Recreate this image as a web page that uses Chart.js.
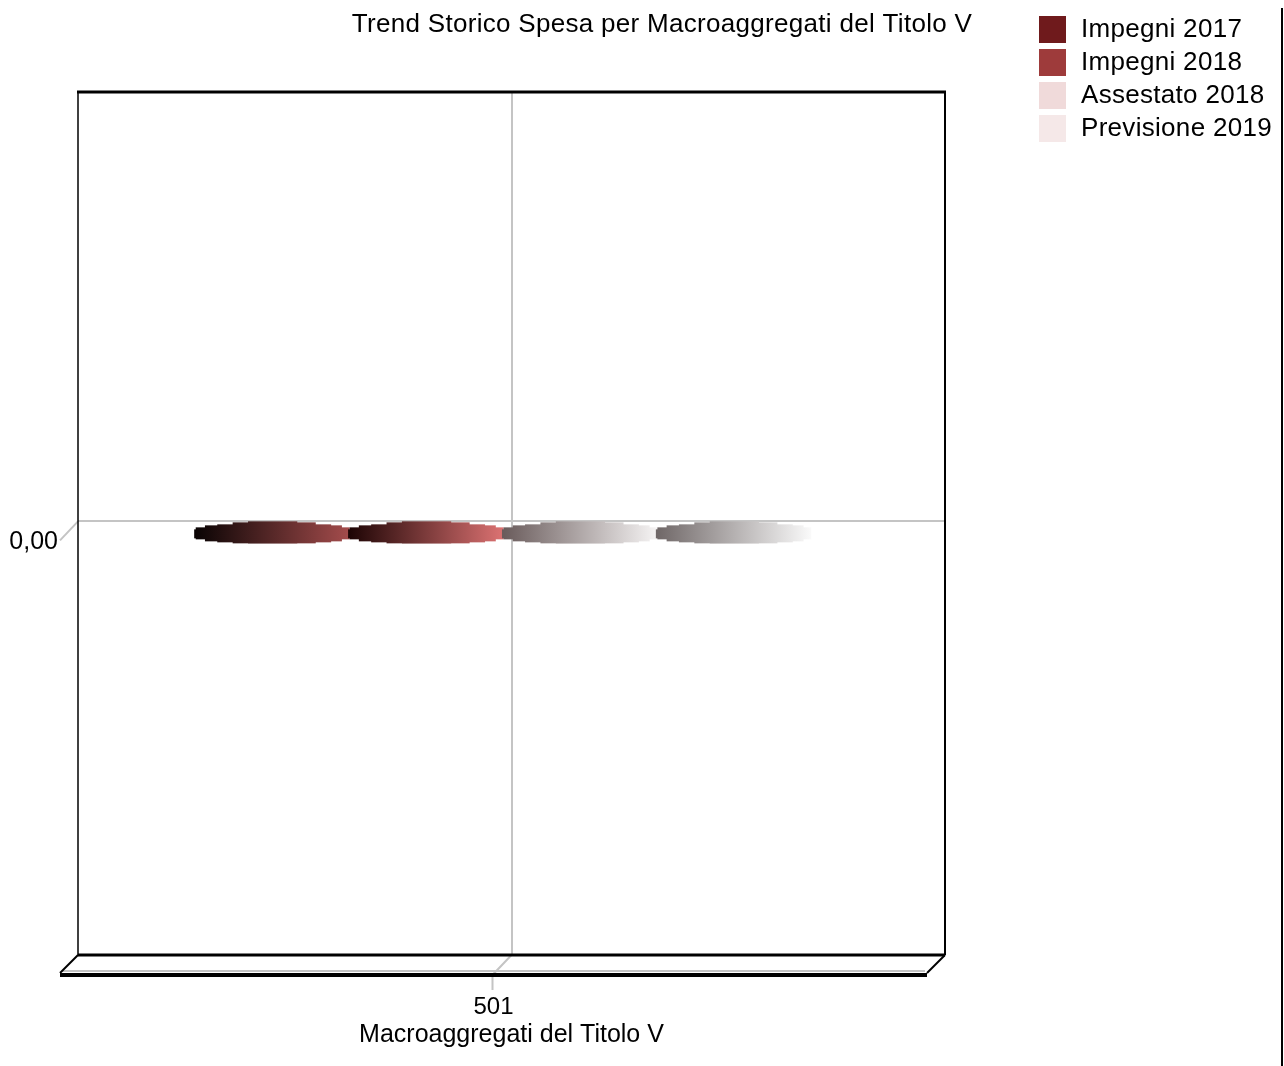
<!DOCTYPE html>
<html><head><meta charset="utf-8">
<script src="https://cdn.jsdelivr.net/npm/chart.js@4"></script>
<style>html,body{margin:0;padding:0;background:#fff}#wrap{width:1284px;height:1066px}</style>
</head><body><div id="wrap"><canvas id="c" width="1284" height="1066"></canvas></div>
<script>
const chartTitle = 'Trend Storico Spesa per Macroaggregati del Titolo V';
const categories = ['501'];
const seriesLabels = ['Impegni 2017', 'Impegni 2018', 'Assestato 2018', 'Previsione 2019'];
const impegni2017 = [0];
const impegni2018 = [0];
const assestato2018 = [0];
const previsione2019 = [0];
const yTickValues = [0];
const xAxisTitle = 'Macroaggregati del Titolo V';

const seriesColors = ['#6f1a1c', '#9e3b3b', '#f0dada', '#f5e8e8'];
const barGradients = [['#0a0404', '#a44c4c'], ['#1e0505', '#dc7272'], ['#6a5c5c', '#f6f4f4'], ['#706868', '#fafafa']];
const FONT = '"Liberation Sans", Arial, sans-serif';
const DEPTH_X = -18, DEPTH_Y = 20;

const seriesData = [impegni2017, impegni2018, assestato2018, previsione2019];

const frame3d = {
  id: 'frame3d',
  beforeDatasetsDraw(chart) {
    const ctx = chart.ctx, a = chart.chartArea;
    const xs = chart.scales.x, ys = chart.scales.y;
    ctx.save();
    ctx.strokeStyle = '#c4c4c4'; ctx.lineWidth = 2;
    yTickValues.forEach(v => {
      const y = ys.getPixelForValue(v);
      ctx.beginPath(); ctx.moveTo(a.left, y); ctx.lineTo(a.left + DEPTH_X, y + DEPTH_Y - 1); ctx.stroke();
    });
    categories.forEach((c, i) => {
      const x = xs.getPixelForValue(i);
      ctx.beginPath(); ctx.moveTo(x, a.bottom); ctx.lineTo(x + DEPTH_X - 1, a.bottom + DEPTH_Y);
      ctx.lineTo(x + DEPTH_X - 1, a.bottom + DEPTH_Y + 15); ctx.stroke();
    });
    ctx.beginPath(); ctx.moveTo(a.left + DEPTH_X + 2, a.bottom + DEPTH_Y - 4); ctx.lineTo(a.right + DEPTH_X - 2, a.bottom + DEPTH_Y - 4); ctx.stroke();
    ctx.strokeStyle = '#000';
    ctx.lineWidth = 3;
    ctx.beginPath(); ctx.moveTo(a.left - 1, a.top); ctx.lineTo(a.right + 1, a.top); ctx.stroke();
    ctx.beginPath(); ctx.moveTo(a.left, a.bottom); ctx.lineTo(a.right, a.bottom); ctx.stroke();
    ctx.lineWidth = 1.5;
    ctx.beginPath(); ctx.moveTo(a.left, a.top); ctx.lineTo(a.left, a.bottom); ctx.stroke();
    ctx.lineWidth = 2;
    ctx.beginPath(); ctx.moveTo(a.right, a.top); ctx.lineTo(a.right, a.bottom); ctx.stroke();
    ctx.lineWidth = 2;
    ctx.beginPath(); ctx.moveTo(a.left, a.bottom); ctx.lineTo(a.left + DEPTH_X, a.bottom + DEPTH_Y - 2); ctx.stroke();
    ctx.beginPath(); ctx.moveTo(a.right, a.bottom); ctx.lineTo(a.right + DEPTH_X, a.bottom + DEPTH_Y - 2); ctx.stroke();
    ctx.lineWidth = 4;
    ctx.beginPath(); ctx.moveTo(a.left + DEPTH_X, a.bottom + DEPTH_Y); ctx.lineTo(a.right + DEPTH_X, a.bottom + DEPTH_Y); ctx.stroke();
    ctx.restore();
  },
  afterDatasetsDraw(chart) {
    const ctx = chart.ctx;
    const y0 = chart.scales.y.getPixelForValue(0);
    ctx.save();
    chart.data.datasets.forEach((ds, i) => {
      const meta = chart.getDatasetMeta(i);
      meta.data.forEach(el => {
        const w = el.width, L = el.x - w / 2 - 8, R = L + w;
        const g = ctx.createLinearGradient(L, 0, R, 0);
        g.addColorStop(0, barGradients[i][0]);
        g.addColorStop(1, barGradients[i][1]);
        ctx.fillStyle = g;
        const rect = (f0, f1, t, b) => ctx.fillRect(L + f0 * w, y0 + t, (f1 - f0) * w, b - t);
        rect(0.00, 1.00, 6, 18);
        rect(0.06, 0.95, 4, 20);
        rect(0.14, 0.88, 3, 21);
        rect(0.24, 0.78, 1, 22);
        rect(0.34, 0.66, 0, 22);
        rect(-0.01, 0.06, 8, 17);
      });
    });
    ctx.restore();
  },
  afterDraw(chart) {
    const ctx = chart.ctx;
    ctx.save();
    ctx.fillStyle = '#000';
    ctx.font = '26px ' + FONT;
    ctx.letterSpacing = '0.3px';
    ctx.textAlign = 'center'; ctx.textBaseline = 'middle';
    ctx.fillText(chartTitle, 662, 25);
    ctx.textAlign = 'left';
    chart.data.datasets.forEach((ds, i) => {
      const by = 16 + i * 33;
      ctx.fillStyle = ds.backgroundColor;
      ctx.fillRect(1039, by, 27, 27);
      ctx.fillStyle = '#000';
      ctx.fillText(ds.label, 1081, by + 14);
    });
    ctx.strokeStyle = '#000'; ctx.lineWidth = 2;
    ctx.beginPath(); ctx.moveTo(1282, 8); ctx.lineTo(1282, 1066); ctx.stroke();
    ctx.restore();
  }
};

new Chart(document.getElementById('c'), {
  type: 'bar',
  data: {
    labels: categories,
    datasets: seriesLabels.map((l, i) => ({
      label: l, data: seriesData[i], backgroundColor: seriesColors[i], borderWidth: 0
    }))
  },
  options: {
    responsive: false, devicePixelRatio: 1, animation: false,
    layout: { padding: { top: 92, right: 339, left: 0, bottom: 0 } },
    plugins: { legend: { display: false }, title: { display: false }, tooltip: { enabled: false } },
    datasets: { bar: { categoryPercentage: 0.71, barPercentage: 1 } },
    scales: {
      x: {
        grid: { offset: false, color: '#c4c4c4', lineWidth: 2, drawTicks: false },
        border: { display: false },
        ticks: { color: '#000', font: { family: FONT, size: 24 }, padding: 38, labelOffset: -18 },
        title: { display: true, text: xAxisTitle, color: '#000', font: { family: FONT, size: 25 }, padding: { top: 0, bottom: 16 } },
        afterFit: s => { s.height = 111; }
      },
      y: {
        min: -1.01, max: 1,
        afterBuildTicks: s => { s.ticks = yTickValues.map(v => ({ value: v })); },
        grid: { color: '#c4c4c4', lineWidth: 2, drawTicks: false },
        border: { display: false },
        ticks: { color: '#000', font: { family: FONT, size: 25 }, padding: 20, labelOffset: 21,
          callback: v => Number(v).toFixed(2).replace('.', ',') },
        afterFit: s => { s.width = 78; }
      }
    }
  },
  plugins: [frame3d]
});
</script></body></html>
